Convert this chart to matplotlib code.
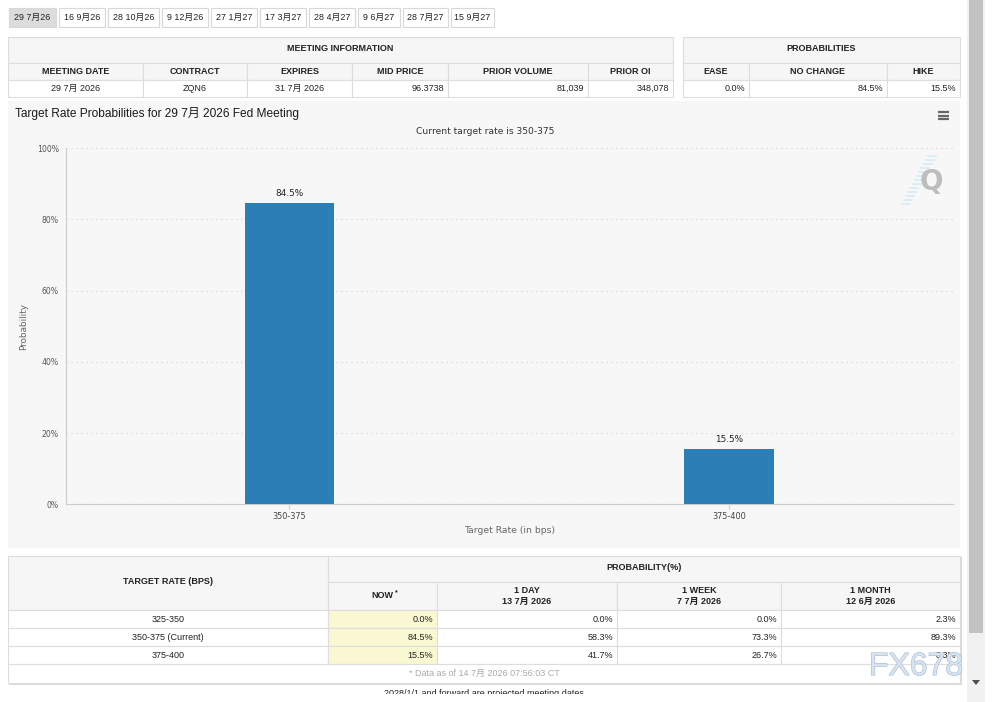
import numpy as np
import matplotlib.pyplot as plt
import matplotlib.patheffects as pe
from matplotlib.patches import Rectangle, Polygon

# ---------------- data ----------------
meeting_tabs = ['29 7月26', '16 9月26', '28 10月26', '9 12月26', '27 1月27',
                '17 3月27', '28 4月27', '9 6月27', '28 7月27', '15 9月27']
info_cols = ['MEETING DATE', 'CONTRACT', 'EXPIRES', 'MID PRICE', 'PRIOR VOLUME', 'PRIOR OI']
info_vals = ['29 7月 2026', 'ZQN6', '31 7月 2026', '96.3738', '81,039', '348,078']
prob_cols = ['EASE', 'NO CHANGE', 'HIKE']
prob_vals = [0.0, 84.5, 15.5]

rates = ['350-375', '375-400']
probs = [84.5, 15.5]

table_rates = ['325-350', '350-375 (Current)', '375-400']
now = [0.0, 84.5, 15.5]
one_day = [0.0, 58.3, 41.7]
one_week = [0.0, 73.3, 26.7]
one_month = [2.3, 89.3, 8.3]
hist_heads = ['1 DAY\n13 7月 2026', '1 WEEK\n7 7月 2026', '1 MONTH\n12 6月 2026']

# ---------------- layout (pixels) ----------------
W, H = 995, 702
FONT = ['Liberation Sans', 'Noto Sans CJK SC']
HC = ['DejaVu Sans', 'Noto Sans CJK SC']
BORDER = '#dddddd'
HEAD_BG = '#f6f6f6'

fig = plt.figure(figsize=(W / 100, H / 100), dpi=100)
bg = fig.add_axes([0, 0, 1, 1])
bg.set_xlim(0, W)
bg.set_ylim(H, 0)
bg.axis('off')


def cell(x0, x1, y0, y1, fc='white', ec=BORDER):
    bg.add_patch(Rectangle((x0, y0), x1 - x0, y1 - y0, fc=fc, ec=ec, lw=0.8))


def txt(x, y, s, ha='center', size=6.5, weight='normal', color='#222222', family=FONT):
    bg.text(x, y, s, ha=ha, va='center', fontsize=size, fontweight=weight,
            color=color, family=family, linespacing=1.35)


######### TABS #########
tab_x = [9, 59, 108, 162, 211, 260, 309, 358, 403, 451, 497]
for i, lab in enumerate(meeting_tabs):
    x0, x1 = tab_x[i], tab_x[i + 1] - 3
    cell(x0, x1, 8, 27, fc='#dcdcdc' if i == 0 else 'white', ec='#d8d8d8')
    txt((x0 + x1) / 2, 17.5, lab, size=6.4)

######### MEETING INFORMATION TABLE #########
ix = [8, 143, 247, 352, 448, 588, 673]
cell(ix[0], ix[-1], 37, 63, fc=HEAD_BG)
txt((ix[0] + ix[-1]) / 2, 48.5, 'MEETING INFORMATION', weight='bold')
for i, (c, v) in enumerate(zip(info_cols, info_vals)):
    cell(ix[i], ix[i + 1], 63, 80, fc=HEAD_BG)
    txt((ix[i] + ix[i + 1]) / 2, 71.5, c, weight='bold')
    cell(ix[i], ix[i + 1], 80, 97)
    if i < 3:
        txt((ix[i] + ix[i + 1]) / 2, 88.5, v)
    else:
        txt(ix[i + 1] - 4, 88.5, v, ha='right')

px = [683, 749, 887, 960]
cell(px[0], px[-1], 37, 63, fc=HEAD_BG)
txt((px[0] + px[-1]) / 2, 48.5, 'PROBABILITIES', weight='bold')
for i, (c, v) in enumerate(zip(prob_cols, prob_vals)):
    cell(px[i], px[i + 1], 63, 80, fc=HEAD_BG)
    txt((px[i] + px[i + 1]) / 2, 71.5, c, weight='bold')
    cell(px[i], px[i + 1], 80, 97)
    txt(px[i + 1] - 4, 88.5, f'{v:.1f}%', ha='right')

######### CHART PANEL #########
bg.add_patch(Rectangle((8, 101), 952, 447, fc='#f7f7f7', ec='none'))
txt(15, 114, 'Target Rate Probabilities for 29 7月 2026 Fed Meeting', ha='left',
    size=8.6, color='#1a1a1a')
txt(485, 131, 'Current target rate is 350-375', size=6.6, color='#333333', family=HC)
# menu icon
for yy in (112, 115.5, 119):
    bg.plot([938, 949], [yy, yy], color='#666666', lw=1.6, solid_capstyle='butt')
# Q logo
for k in range(13):
    yy = 156 + k * 4
    xr = 936 - k * 2.2
    bg.plot([xr - 8, xr], [yy, yy], color='#d3ecf8', lw=1.2)
txt(931, 182, 'Q', size=20, weight='bold', color='#bdbdbd', family=['DejaVu Sans'])

ax_l, ax_r, ax_t, ax_b = 65.7, 953, 148, 504.3
ax = fig.add_axes([ax_l / W, 1 - ax_b / H, (ax_r - ax_l) / W, (ax_b - ax_t) / H])
ax.patch.set_alpha(0)
xpos = np.arange(len(rates))
ax.bar(xpos, probs, width=0.203, color='#2a7fb6', zorder=3)
for x, v in zip(xpos, probs):
    ax.annotate(f'{v}%', (x, v), xytext=(0, 4), textcoords='offset points',
                ha='center', va='bottom', fontsize=6.4, color='#222222', family=HC)
ax.set_xlim(-0.5086, 1.5096)
ax.set_ylim(0, 100)
ax.set_xticks(xpos)
ax.set_xticklabels(rates, family=HC)
ax.set_yticks(range(0, 101, 20))
ax.set_yticklabels([f'{v}%' for v in range(0, 101, 20)], family=HC)
ax.yaxis.grid(True, ls=(0, (1, 3.5)), color='#d0d0d0', lw=0.8)
ax.set_axisbelow(True)
ax.tick_params(axis='y', length=0, pad=5, labelsize=5.6, labelcolor='#555555')
ax.tick_params(axis='x', length=3.6, width=0.8, color='#d0d0d0', labelsize=5.9,
               labelcolor='#444444', pad=2)
for s in ('top', 'right'):
    ax.spines[s].set_visible(False)
ax.spines['left'].set_color('#cccccc')
ax.spines['bottom'].set_color('#cccccc')
ax.set_ylabel('Probability', fontsize=6.4, color='#666666', family=HC)
ax.yaxis.set_label_coords(-0.0425, 0.5)
ax.set_xlabel('Target Rate (in bps)', fontsize=6.7, color='#666666', family=HC)
ax.xaxis.set_label_coords(0.5, -0.062)

######### PROBABILITY TABLE #########
bx = [8, 328, 437, 617, 781, 960]
ry = [610, 628, 646, 664]
# shadow
bg.add_patch(Rectangle((9, 557), 953, 128, fc='#d9d9d9', ec='none'))
cell(bx[0], bx[1], 556, 610, fc=HEAD_BG)
txt((bx[0] + bx[1]) / 2, 582, 'TARGET RATE (BPS)', weight='bold')
cell(bx[1], bx[-1], 556, 582, fc=HEAD_BG)
txt((bx[1] + bx[-1]) / 2, 568, 'PROBABILITY(%)', weight='bold')
cell(bx[1], bx[2], 582, 610, fc=HEAD_BG)
txt((bx[1] + bx[2]) / 2, 596, 'NOW', weight='bold')
txt((bx[1] + bx[2]) / 2 + 14, 592.5, '*', weight='bold', size=5)
for i, hh in enumerate(hist_heads):
    cell(bx[i + 2], bx[i + 3], 582, 610, fc=HEAD_BG)
    txt((bx[i + 2] + bx[i + 3]) / 2, 596, hh, weight='bold')

cols = [now, one_day, one_week, one_month]
for r, lab in enumerate(table_rates):
    y0, y1 = ry[r], ry[r] + 18
    cell(bx[0], bx[1], y0, y1)
    txt((bx[0] + bx[1]) / 2, (y0 + y1) / 2, lab)
    for c, vals in enumerate(cols):
        cell(bx[c + 1], bx[c + 2], y0, y1, fc='#f9f8d2' if c == 0 else 'white')
        txt(bx[c + 2] - 4, (y0 + y1) / 2, f'{vals[r]:.1f}%', ha='right')
cell(bx[0], bx[-1], 664, 683)
txt(484, 673.5, '* Data as of 14 7月 2026 07:56:03 CT', color='#aaaaaa')
txt(484, 694, '2028/1/1 and forward are projected meeting dates')
bg.add_patch(Rectangle((0, 693.5), 966, 10, fc='white', ec='none', zorder=5))

######### SCROLLBAR #########
bg.add_patch(Rectangle((967, 0), 18, H, fc='#f1f1f1', ec='none', zorder=6))
bg.add_patch(Rectangle((969, 0), 14, 633, fc='#c1c1c1', ec='none', zorder=7))
bg.add_patch(Polygon([[972, 680], [980, 680], [976, 685]], closed=True,
                     fc='#505050', ec='none', zorder=7))

######### WATERMARK #########
bg.text(916, 667, 'FX678', ha='center', va='center', fontsize=23, color='#d6e3f0',
        family=['Liberation Sans'], zorder=8,
        path_effects=[pe.withStroke(linewidth=0.8, foreground='#a9b9cc')])

fig.savefig('out.png', dpi=100, facecolor='white')
